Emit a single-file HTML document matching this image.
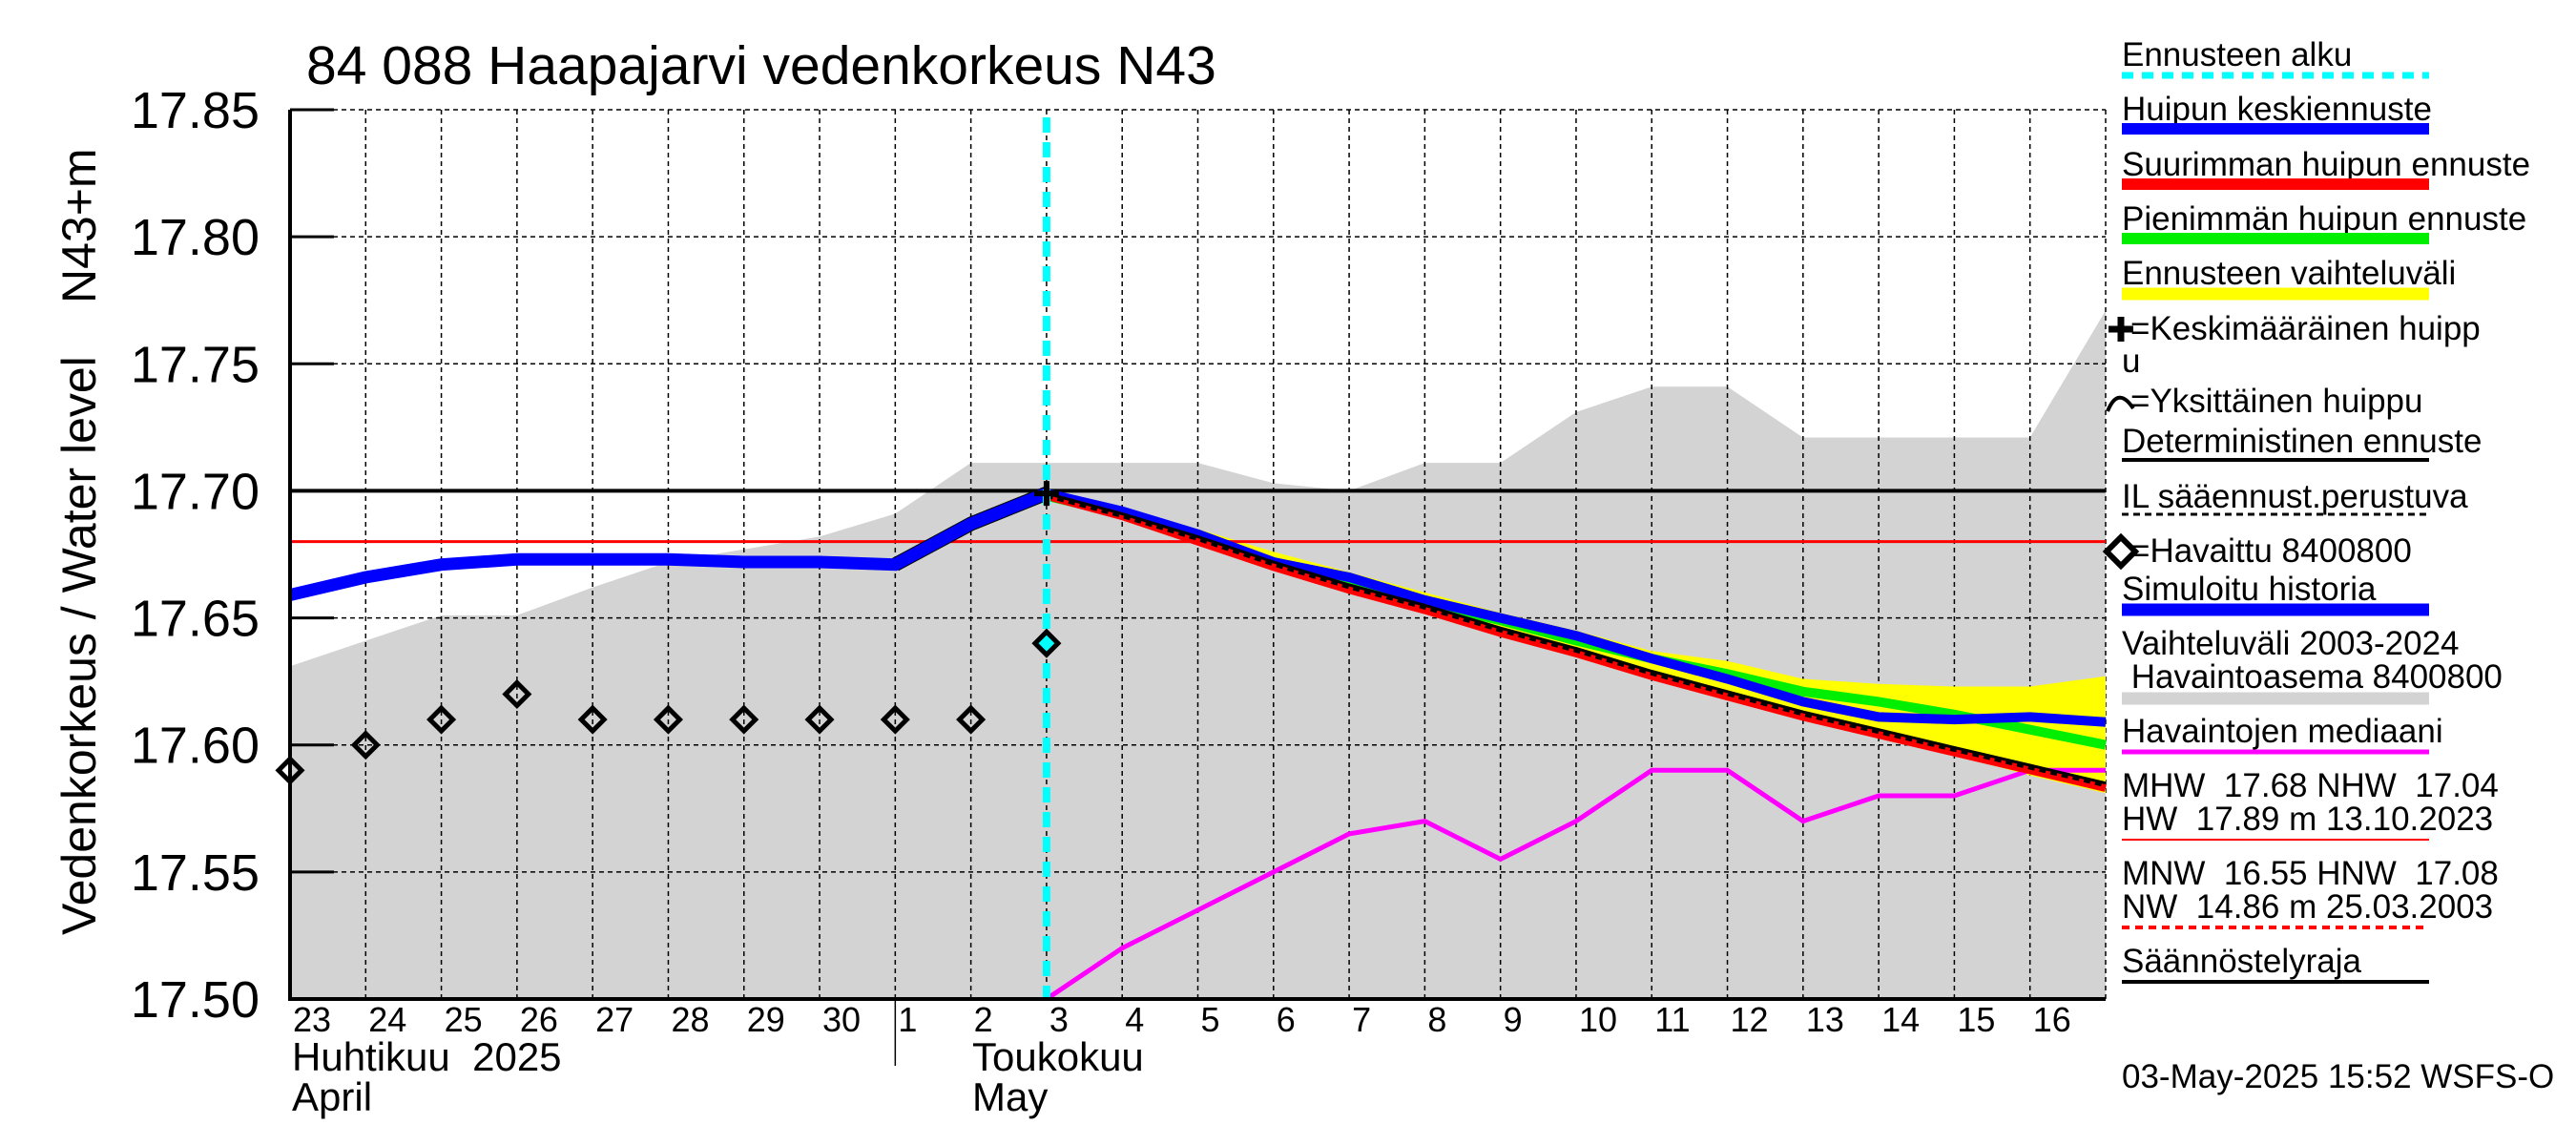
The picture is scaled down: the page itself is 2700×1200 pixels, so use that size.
<!DOCTYPE html>
<html><head><meta charset="utf-8">
<style>
html,body{margin:0;padding:0;background:#fff;}
svg{display:block;font-family:"Liberation Sans",sans-serif;}
text{white-space:pre;}
</style></head>
<body>
<svg id="chart" xmlns="http://www.w3.org/2000/svg" width="2700" height="1200" viewBox="0 0 2700 1200">
<rect width="2700" height="1200" fill="#fff"/>
<g id="plot"></g>
<text x="321" y="88" font-size="57">84 088 Haapajarvi vedenkorkeus N43</text>
<text transform="translate(100,980) rotate(-90)" font-size="50">Vedenkorkeus / Water level</text>
<text transform="translate(100,318) rotate(-90)" font-size="50">N43+m</text>
<g id="legend" font-size="35"></g>
<text x="2224" y="1140" font-size="35">03-May-2025 15:52 WSFS-O</text>
</svg>
<script>
const dayLabels=["23","24","25","26","27","28","29","30","1","2","3","4","5","6","7","8","9","10","11","12","13","14","15","16"];
const yTicks=[17.50,17.55,17.60,17.65,17.70,17.75,17.80,17.85];
const rangeUpper=[17.631,17.641,17.651,17.651,17.662,17.672,17.677,17.682,17.691,17.711,17.711,17.711,17.711,17.703,17.70,17.711,17.711,17.731,17.741,17.741,17.721,17.721,17.721,17.721,17.771];
const simHistory=[17.659,17.666,17.671,17.673,17.673,17.673,17.672,17.672,17.671,17.687,17.699];
const observed=[17.59,17.60,17.61,17.62,17.61,17.61,17.61,17.61,17.61,17.61,17.64];
// forecast from day index 10 (May 3) to 24 (May 17)
const fcMean=[17.699,17.692,17.683,17.672,17.666,17.657,17.650,17.643,17.634,17.626,17.617,17.611,17.610,17.611,17.609];
const fcMax=[17.698,17.690,17.680,17.670,17.661,17.653,17.644,17.636,17.627,17.619,17.611,17.604,17.597,17.590,17.583];
const fcMin=[17.698,17.691,17.682,17.672,17.665,17.656,17.649,17.641,17.634,17.628,17.621,17.617,17.612,17.606,17.600];
const fcDet=[17.699,17.691,17.682,17.672,17.663,17.655,17.646,17.638,17.629,17.621,17.613,17.606,17.599,17.592,17.585];
const bandUpper=[17.700,17.693,17.685,17.676,17.668,17.660,17.652,17.645,17.637,17.633,17.626,17.624,17.623,17.623,17.627];
const bandLower=[17.697,17.689,17.679,17.669,17.660,17.652,17.643,17.635,17.626,17.618,17.610,17.603,17.596,17.588,17.581];
const median=[17.50,17.52,17.535,17.55,17.565,17.57,17.555,17.57,17.59,17.59,17.57,17.58,17.58,17.59,17.59];
const refLevels=[17.70,17.68];
const fcStart=10;

const NS="http://www.w3.org/2000/svg";
const X0=304,X1=2207,Y0=1047,Y1=115,V0=17.50,V1=17.85,ND=24;
const xs=i=>X0+(X1-X0)*i/ND;
const ys=v=>Y0-(v-V0)/(V1-V0)*(Y0-Y1);
const plot=document.getElementById('plot');
function mk(tag,attrs,parent){const e=document.createElementNS(NS,tag);for(const k in attrs)e.setAttribute(k,attrs[k]);(parent||plot).appendChild(e);return e;}
function pts(arr,off){return arr.map((v,i)=>xs(i+off).toFixed(1)+','+ys(v).toFixed(1)).join(' ');}

let g=mk('polygon',{points:pts(rangeUpper,0)+' '+xs(ND)+','+Y0+' '+X0+','+Y0,fill:'#d3d3d3'});


for(let i=1;i<=ND;i++){let l=mk('line',{x1:xs(i),x2:xs(i),y1:Y1,y2:Y0,stroke:'#000','stroke-width':1.5,'stroke-dasharray':'5,4'});

}
yTicks.forEach(v=>{let l=mk('line',{x1:X0,x2:X1,y1:ys(v),y2:ys(v),stroke:'#000','stroke-width':1.5,'stroke-dasharray':'5,4'});

});
let yb=mk('polygon',{points:pts(bandUpper,fcStart)+' '+bandLower.map((v,i)=>xs(i+fcStart)+','+ys(v)).reverse().join(' '),fill:'#ffff00'});


let r1=mk('line',{x1:X0,x2:X1,y1:ys(refLevels[0]),y2:ys(refLevels[0]),stroke:'#000','stroke-width':4});


let r2=mk('line',{x1:X0,x2:X1,y1:ys(refLevels[1]),y2:ys(refLevels[1]),stroke:'#ff0000','stroke-width':3});


let md=mk('polyline',{points:pts(median,fcStart),fill:'none',stroke:'#ff00ff','stroke-width':5});


let sg=mk('polyline',{points:pts(fcMin,fcStart),fill:'none',stroke:'#00ee00','stroke-width':10});


let sb=mk('polyline',{points:pts(fcMean,fcStart),fill:'none',stroke:'#0000ff','stroke-width':10});


let sr=mk('polyline',{points:pts(fcMax,fcStart),fill:'none',stroke:'#ff0000','stroke-width':8});


let sd=mk('polyline',{points:pts(fcDet,fcStart),fill:'none',stroke:'#000','stroke-width':3});


let sdd=mk('polyline',{points:pts(fcDet,fcStart),fill:'none',stroke:'#000','stroke-width':5,'stroke-dasharray':'7,5',transform:'translate(0,2)'});


let shk=mk('polyline',{points:pts(simHistory.slice(8),8),fill:'none',stroke:'#000','stroke-width':15});


let sh=mk('polyline',{points:pts(simHistory,0),fill:'none',stroke:'#0000ff','stroke-width':13});


let cy=mk('line',{x1:xs(fcStart),x2:xs(fcStart),y1:Y1+8,y2:Y0,stroke:'#00ffff','stroke-width':8,'stroke-dasharray':'16,10'});


observed.forEach((v,i)=>{const cx=xs(i),cyy=ys(v),s=12;
let d=mk('polygon',{points:`${cx},${cyy-s} ${cx+s},${cyy} ${cx},${cyy+s} ${cx-s},${cyy}`,fill:i===fcStart?'#00ffff':'none',stroke:'#000','stroke-width':5});

});
{const cx=xs(fcStart),c=ys(fcMean[0]);
let p=mk('path',{d:`M${cx-13},${c}H${cx+13}M${cx},${c-13}V${c+13}`,stroke:'#000','stroke-width':6});

}
let ax=mk('path',{d:`M${X0},${Y1}V${Y0}H${X1}`,fill:'none',stroke:'#000','stroke-width':4});


yTicks.forEach(v=>{let t=mk('line',{x1:X0,x2:X0+46,y1:ys(v),y2:ys(v),stroke:'#000','stroke-width':3});


let tx=mk('text',{x:272,y:ys(v)+19,'font-size':54,'text-anchor':'end'});tx.textContent=v.toFixed(2);

});
dayLabels.forEach((d,i)=>{let t=mk('text',{x:xs(i)+3,y:1081,'font-size':36});t.textContent=d;

});
let ms=mk('line',{x1:xs(8),x2:xs(8),y1:Y0,y2:1117,stroke:'#000','stroke-width':1.5});


[["Huhtikuu  2025",X0+2,1122],["April",X0+2,1164],["Toukokuu",1019,1122],["May",1019,1164]].forEach(a=>{let t=mk('text',{x:a[1],y:a[2],'font-size':42});t.textContent=a[0];

});

const lg=document.getElementById('legend');
const LX=2224,LX2=2546;
const legText=[["Ennusteen alku",69],["Huipun keskiennuste",126],["Suurimman huipun ennuste",184],["Pienimmän huipun ennuste",241],["Ennusteen vaihteluväli",298],["=Keskimääräinen huipp",356,2233],["u",390],["=Yksittäinen huippu",432,2233],["Deterministinen ennuste",474],["IL sääennust.perustuva",532],["=Havaittu 8400800",589,2233],["Simuloitu historia",629],["Vaihteluväli 2003-2024",686],[" Havaintoasema 8400800",721],["Havaintojen mediaani",778],["MHW  17.68 NHW  17.04",835],["HW  17.89 m 13.10.2023",870],["MNW  16.55 HNW  17.08",927],["NW  14.86 m 25.03.2003",962],["Säännöstelyraja",1019]];
legText.forEach(a=>{let t=mk('text',{x:a[2]||LX,y:a[1]},lg);t.textContent=a[0];

});
const legLines=[[79,'#00ffff',7,'12,9'],[135,'#0000ff',12],[193,'#ff0000',12],[250,'#00ee00',12],[308,'#ffff00',13],[482,'#000',4],[539,'#000',3,'7,5'],[639,'#0000ff',13],[732,'#d3d3d3',13],[788,'#ff00ff',5],[880,'#ff0000',2],[972,'#ff0000',4,'8,6'],[1029,'#000',4]];
legLines.forEach(a=>{let l=mk('line',{x1:LX,x2:LX2,y1:a[0],y2:a[0],stroke:a[1],'stroke-width':a[2]},lg);if(a[3])l.setAttribute('stroke-dasharray',a[3]);

});
let lc=mk('path',{d:'M2210,345H2236M2223,332V358',stroke:'#000','stroke-width':7},lg);


let la=mk('path',{d:'M2209,431Q2220,404 2236,428',fill:'none',stroke:'#000','stroke-width':4},lg);


let ld=mk('polygon',{points:'2223,563 2238,578 2223,593 2208,578',fill:'none',stroke:'#000','stroke-width':6},lg);


</script>
</body></html>
